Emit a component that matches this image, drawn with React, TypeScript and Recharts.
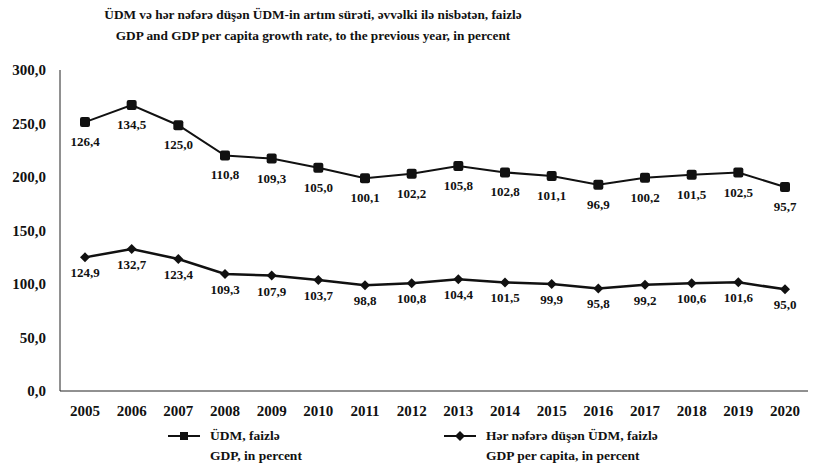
import { AreaChart, Area, XAxis, YAxis } from 'recharts';

// values (stacked: GDP line sits on top of per capita)
const years = ['2005', '2006', '2007', '2008', '2009', '2010', '2011', '2012', '2013', '2014', '2015', '2016', '2017', '2018', '2019', '2020'];
const gdp = [126.4, 134.5, 125.0, 110.8, 109.3, 105.0, 100.1, 102.2, 105.8, 102.8, 101.1, 96.9, 100.2, 101.5, 102.5, 95.7];
const gdpPerCapita = [124.9, 132.7, 123.4, 109.3, 107.9, 103.7, 98.8, 100.8, 104.4, 101.5, 99.9, 95.8, 99.2, 100.6, 101.6, 95.0];
const yTicks = [0, 50, 100, 150, 200, 250, 300];

const data = years.map((year, i) => ({ year, gdp: gdp[i], perCapita: gdpPerCapita[i] }));

const FONT = "'Liberation Serif', serif";
const fmt = (v: number) => v.toFixed(1).replace('.', ',');

const SquareDot = ({ cx, cy }: any) => {
  if (cx == null || cy == null) return null;
  return <rect x={cx - 5} y={cy - 5} width={10} height={10} rx={2} fill="#111" />;
};

const DiamondDot = ({ cx, cy }: any) => {
  if (cx == null || cy == null) return null;
  return <path d={`M${cx},${cy - 5} L${cx + 5},${cy} L${cx},${cy + 5} L${cx - 5},${cy} Z`} fill="#111" />;
};

const makeLabel = (values: number[], dy: number) => ({ x, y, index }: any) => {
  if (x == null || y == null) return null;
  return (
    <text x={x} y={y + dy} textAnchor="middle" style={{ fontFamily: FONT }} fontWeight="bold" fontSize={13} fill="#111">
      {fmt(values[index])}
    </text>
  );
};

const LegendItem = ({ left, marker, line1, line2 }: any) => (
  <div style={{ position: 'absolute', left, top: 426, fontFamily: FONT, fontWeight: 'bold', fontSize: 13.5, color: '#111', lineHeight: '20px', whiteSpace: 'nowrap' }}>
    <svg width={36} height={20} style={{ position: 'absolute', left: -44, top: 0 }}>
      <line x1={2} y1={10} x2={34} y2={10} stroke="#111" strokeWidth={2} />
      {marker === 'square' ? (
        <rect x={14} y={6} width={8} height={8} fill="#111" />
      ) : (
        <path d="M18,5 L23,10 L18,15 L13,10 Z" fill="#111" />
      )}
    </svg>
    <div>{line1}</div>
    <div>{line2}</div>
  </div>
);

const tickStyle = { fontFamily: FONT, fontWeight: 'bold', fontSize: 15, fill: '#111' };

export default function App() {
  return (
    <div style={{ position: 'absolute', left: 0, top: 0, width: 813, height: 474, background: '#fff', fontFamily: FONT }}>
      <div style={{ position: 'absolute', left: 0, width: 626, top: 4, textAlign: 'center', fontWeight: 'bold', fontSize: 13.3, lineHeight: '21px', color: '#111' }}>
        <div>ÜDM və hər nəfərə düşən ÜDM-in artım sürəti, əvvəlki ilə nisbətən, faizlə</div>
        <div>GDP and GDP per capita growth rate, to the previous year, in percent</div>
      </div>
      <AreaChart width={813} height={474} data={data} margin={{ top: 70, right: 5, left: 0, bottom: 53 }} style={{ position: 'absolute', left: 0, top: 0, fontFamily: FONT }}>
        <XAxis
          dataKey="year"
          height={30}
          padding={{ left: 25, right: 23 }}
          stroke="#222"
          tickLine={false}
          tick={{ ...tickStyle, dy: 6 }}
        />
        <YAxis
          width={60}
          domain={[0, 300]}
          ticks={yTicks}
          stroke="#222"
          tickLine={false}
          tickFormatter={fmt}
          tick={{ ...tickStyle, dx: -6 }}
        />
        <Area
          type="linear"
          dataKey="perCapita"
          stackId="1"
          stroke="#111"
          strokeWidth={2.5}
          fill="none"
          dot={<DiamondDot />}
          activeDot={false}
          label={makeLabel(gdpPerCapita, 20)}
          isAnimationActive={false}
        />
        <Area
          type="linear"
          dataKey="gdp"
          stackId="1"
          stroke="#111"
          strokeWidth={2}
          fill="none"
          dot={<SquareDot />}
          activeDot={false}
          label={makeLabel(gdp, 24)}
          isAnimationActive={false}
        />
      </AreaChart>
      <LegendItem left={210} marker="square" line1="ÜDM, faizlə" line2="GDP, in percent" />
      <LegendItem left={486} marker="diamond" line1="Hər nəfərə düşən ÜDM, faizlə" line2="GDP per capita, in percent" />
    </div>
  );
}
